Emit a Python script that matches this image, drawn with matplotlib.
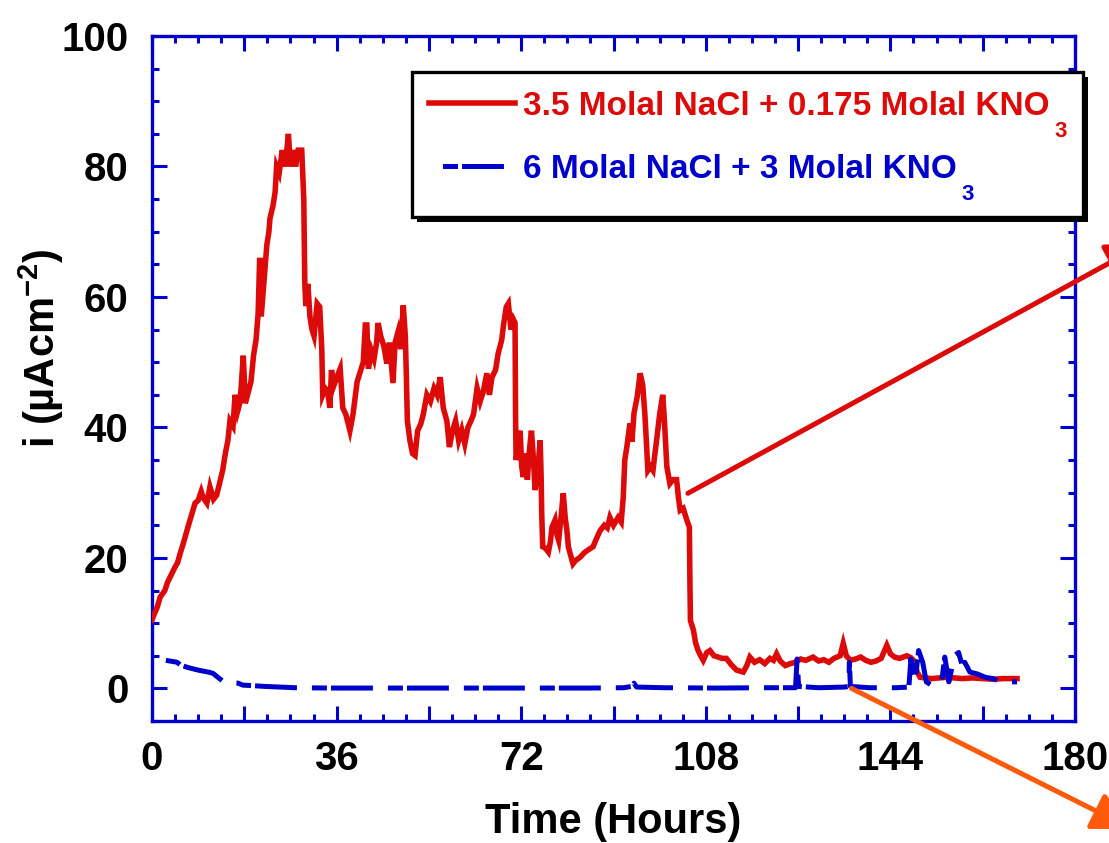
import matplotlib
matplotlib.use('Agg')
import matplotlib.pyplot as plt
from matplotlib.ticker import MultipleLocator, FuncFormatter
from matplotlib.patches import Rectangle
from matplotlib.lines import Line2D

plt.rcParams['font.family'] = ['Liberation Sans', 'DejaVu Sans']
plt.rcParams['font.weight'] = 'bold'
plt.rcParams['lines.scale_dashes'] = False

# ---------------- data ----------------
red_label = "3.5 Molal NaCl + 0.175 Molal KNO"
blue_label = "6 Molal NaCl + 3 Molal KNO"
subscript = "3"

red_t = [0.0, 0.5, 1.0, 1.6, 2.5, 3.0, 3.5, 4.5, 5.0, 5.5, 6.1, 7.0, 7.8, 8.4, 9.0, 9.6,
         10.0, 10.7, 11.3, 12.0, 12.6, 13.2, 13.8, 14.3, 14.8, 15.2, 15.8, 16.2, 16.7, 17.2,
         17.8, 18.2, 18.8, 19.3, 19.8, 20.3, 20.7, 21.0, 21.3, 21.8, 22.4, 22.8, 23.0, 23.6,
         24.0, 24.3, 24.8, 25.4, 25.9, 26.3, 26.6, 27.0, 27.5, 28.0, 28.5, 29.2, 29.6, 29.8,
         30.0, 30.4, 30.8, 31.2, 31.6, 32.2, 32.7, 33.1, 33.3, 33.8, 34.2, 34.7, 35.0, 35.5,
         36.2, 36.7, 37.2, 37.8, 38.6, 39.2, 39.6, 40.0, 40.6, 41.2, 41.6, 41.9, 42.2, 42.8,
         43.3, 43.8, 44.1, 44.6, 45.2, 45.8, 46.3, 47.0, 47.4, 48.0, 48.5, 49.0, 49.4, 49.6,
         49.8, 50.3, 50.8, 51.3, 51.8, 52.4, 52.9, 53.6, 54.3, 55.0, 55.6, 56.2, 56.8, 57.5,
         58.0, 58.6, 59.2, 59.8, 60.4, 61.0, 61.6, 62.2, 62.7, 63.4, 64.0, 64.6, 65.3, 65.8,
         66.3, 67.0, 67.5, 68.2, 68.6, 69.1, 69.5, 70.0, 70.5, 70.8, 70.9, 71.0, 71.4, 71.8,
         72.1, 72.4, 72.8, 73.2, 73.6, 74.0, 74.4, 74.7, 75.2, 75.7, 75.9, 76.0, 76.2, 76.7,
         77.3, 77.7, 78.0, 78.6, 79.0, 79.3, 79.8, 80.2, 80.6, 80.9, 81.2, 81.6, 82.1, 82.6,
         83.5, 84.3, 85.2, 86.0, 86.7, 87.4, 88.2, 88.8, 89.3, 90.0, 90.9, 91.5, 91.9, 92.2,
         92.6, 93.2, 93.6, 94.0, 94.6, 95.2, 95.7, 96.1, 96.4, 96.7, 97.2, 97.7, 98.0, 98.4,
         99.0, 99.6, 99.9, 100.4, 101.0, 101.6, 102.3, 102.7, 103.0, 103.6, 104.3, 104.8,
         104.9, 105.0, 105.6, 106.0, 106.5, 107.0, 107.5, 108.2, 108.8, 109.6, 110.4, 111.2,
         112.0, 113.0, 114.0, 115.3, 116.0, 116.6, 117.5, 118.5, 119.5, 120.5, 121.2, 121.8,
         122.5, 123.5, 124.5, 125.5, 126.5, 127.5, 128.9, 130.0, 131.0, 132.0, 133.0, 134.2,
         134.8, 135.4, 136.2, 137.2, 138.2, 139.2, 140.2, 141.2, 142.2, 143.3, 144.0, 144.8,
         145.8, 146.5, 147.2, 148.0, 148.8, 149.2, 149.8, 151.0, 152.0, 153.5, 155.0, 156.5,
         158.0, 160.0, 162.0, 164.0, 166.0, 168.7]
red_i = [10.5, 11.5, 12.4, 14.0, 15.0, 16.2, 17.0, 18.6, 19.3, 20.7, 22.2, 24.7, 26.8, 28.4, 28.8, 30.2,
         29.2, 28.4, 30.9, 29.0, 29.6, 31.5, 33.5, 36.0, 38.0, 41.0, 40.2, 45.0, 42.5, 44.0,
         51.0, 43.7, 45.5, 47.0, 51.0, 53.5, 57.5, 66.0, 57.0, 62.0, 68.0, 70.0, 72.0, 74.0,
         76.0, 80.0, 79.0, 82.5, 80.0, 82.5, 85.0, 80.0, 82.5, 80.0, 82.5, 82.5, 75.0, 62.0,
         58.6, 62.0, 57.0, 55.0, 54.0, 59.0, 58.5, 52.3, 45.0, 46.0, 45.7, 43.0, 48.8, 46.5,
         48.0, 49.0, 43.0, 42.0, 39.5, 42.0, 44.5, 47.0, 48.5, 50.0, 55.7, 55.7, 49.0, 51.7,
         50.5, 53.0, 56.0, 54.0, 52.5, 49.8, 53.0, 46.8, 53.0, 54.7, 52.0, 58.7, 54.0, 48.0,
         41.0, 38.0, 36.0, 35.7, 39.5, 40.5, 42.0, 45.0, 44.0, 46.0, 45.0, 47.7, 43.0, 41.0,
         37.0, 39.5, 41.0, 38.0, 39.6, 37.5, 40.0, 41.0, 42.0, 46.0, 44.0, 45.5, 48.3, 45.0,
         47.7, 48.8, 51.3, 53.4, 56.0, 58.5, 59.0, 55.0, 56.5, 56.0, 42.0, 35.0, 37.0, 39.5,
         34.0, 32.4, 36.0, 32.0, 36.5, 39.5, 35.0, 30.4, 33.0, 38.0, 32.0, 26.8, 21.7, 21.5,
         20.9, 22.5, 24.7, 25.8, 23.5, 22.7, 26.5, 29.9, 26.0, 24.3, 21.7, 20.5, 19.1, 19.6,
         20.1, 20.8, 21.3, 21.7, 23.0, 24.2, 25.0, 24.6, 26.2, 25.0, 26.2, 25.5, 29.3, 35.0,
         37.0, 40.6, 37.8, 42.2, 44.6, 48.3, 46.5, 42.2, 38.0, 33.4, 34.0, 33.4, 35.5, 38.0,
         42.0, 45.0, 41.5, 34.0, 31.4, 32.0, 32.0, 29.0, 27.3, 27.6, 25.8, 24.7,
         16.6, 10.4, 8.9, 7.0, 5.8, 5.0, 4.3, 5.5, 5.8, 5.0, 4.8, 4.6,
         4.6, 3.6, 2.8, 2.5, 3.5, 4.8, 4.0, 4.4, 3.8, 4.6, 4.3, 5.3,
         4.2, 3.5, 3.8, 4.0, 4.5, 4.3, 4.8, 4.2, 4.4, 4.0, 4.6, 5.0,
         6.9, 5.0, 4.3, 4.5, 4.8, 4.3, 4.0, 4.2, 4.6, 6.6, 5.3, 4.8,
         4.6, 4.8, 5.0, 4.7, 4.0, 2.5, 1.7, 1.6, 1.5, 1.6, 1.7, 1.6,
         1.5, 1.6, 1.5, 1.4, 1.5, 1.5]

blue_t = [2.7, 4.9, 5.5, 7.0, 9.0, 11.0, 11.9, 13.0, 14.2, 16.8, 17.7, 20.0, 22.0, 25.0,
          28.0, 35.0, 45.0, 55.0, 65.0, 75.0, 85.0, 92.0, 93.5, 94.0, 94.5, 100.0, 110.0,
          120.0, 125.5, 125.8, 126.1, 130.0, 135.0, 135.9, 136.0, 136.2, 140.0, 145.0,
          147.6, 148.0, 148.8, 149.5, 150.3, 151.0, 152.0, 153.0, 154.0, 154.6, 155.4,
          156.5, 157.3, 158.0, 158.5, 159.5, 161.0, 162.5, 164.0, 165.0, 167.0, 168.7]
blue_i = [4.3, 4.0, 3.6, 3.2, 2.8, 2.5, 2.3, 1.6, 0.9, 0.8, 0.5, 0.4, 0.3, 0.2,
          0.1, 0.05, 0.05, 0.05, 0.05, 0.05, 0.05, 0.1, 0.3, 0.8, 0.2, 0.1, 0.05,
          0.1, 0.1, 4.5, 0.3, 0.1, 0.2, 0.3, 4.0, 0.3, 0.1, 0.1,
          0.2, 4.5, 1.0, 5.8, 4.0, 1.0, 0.5, 0.5, 1.0, 4.8, 1.0,
          5.0, 5.5, 3.5, 4.0, 2.5, 2.2, 1.7, 1.5, 1.2, 1.0, 1.0]

x_label = "Time (Hours)"
y_label = "i (µAcm$^{\\mathregular{-2}}$)"

# ---------------- style ----------------
RED = '#DD0A0A'
BLUE = '#0000CC'
ORANGE = '#FF5A0A'
W, H = 1109, 843
DASH = (10.8, 2.9, 30.2, 10.8)

fig = plt.figure(figsize=(W / 100, H / 100), dpi=100)
ax = fig.add_axes([152 / W, 1 - 721 / H, (1075 - 152) / W, (721 - 36) / H])

red_line, = ax.plot(red_t, red_i, color=RED, lw=4.0, solid_joinstyle='miter', label=red_label, zorder=3)
ax.plot(blue_t, blue_i, color=BLUE, lw=3.6, linestyle=(0, DASH),
        dash_capstyle='butt', zorder=4)
blue_handle = Line2D([], [], color=BLUE, lw=3.6, linestyle=(45.0, DASH), dash_capstyle='butt',
                     label=blue_label)

ax.set_xlim(0, 180)
ax.set_ylim(-5, 100)
ax.xaxis.set_major_locator(MultipleLocator(18))
ax.xaxis.set_minor_locator(MultipleLocator(4.5))
ax.xaxis.set_major_formatter(FuncFormatter(lambda v, p: f"{int(round(v))}" if int(round(v)) % 36 == 0 else ""))
ax.yaxis.set_major_locator(MultipleLocator(20))
ax.yaxis.set_minor_locator(MultipleLocator(5))

ax.tick_params(which='both', direction='in', top=True, right=True, color=BLUE,
               width=2.2, labelcolor='black')
ax.tick_params(which='major', length=10.8, labelsize=29)
ax.tick_params(which='minor', length=5)
ax.tick_params(axis='x', pad=14)
ax.tick_params(axis='y', pad=17)
for lab in ax.get_xticklabels() + ax.get_yticklabels():
    lab.set_fontweight('bold')
for sp in ax.spines.values():
    sp.set_color(BLUE)
    sp.set_linewidth(2.4)

ax.set_xlabel(x_label, fontsize=30, fontweight='bold', labelpad=17)
ax.set_ylabel(y_label, fontsize=30, fontweight='bold')
ax.yaxis.set_label_coords(-0.093, 0.545)

# legend frame with black shadow
fig.add_artist(Rectangle((417 / W, 1 - 222 / H), 671 / W, 145 / H, transform=fig.transFigure,
                         facecolor='black', edgecolor='black', lw=0, zorder=6))
fig.add_artist(Rectangle((412 / W, 1 - 217 / H), 671 / W, 145 / H, transform=fig.transFigure,
                         facecolor='white', edgecolor='black', lw=2.4, zorder=6.1))

leg = ax.legend(handles=[red_line, blue_handle], loc='upper left',
                bbox_to_anchor=(429 / W, 1 - 91 / H), bbox_transform=fig.transFigure,
                borderaxespad=0, borderpad=0, frameon=False,
                prop=dict(family='Liberation Sans', weight='bold', size=24),
                handlelength=2.58, handletextpad=0.24, labelspacing=0.96)
leg.set_zorder(7)
fig.add_artist(leg)
for txt, col in zip(leg.get_texts(), [RED, BLUE]):
    txt.set_color(col)
    ann = fig.add_artist(matplotlib.text.Annotation(subscript, xy=(1, 0), xycoords=txt,
                                                    xytext=(5, -15), textcoords='offset pixels',
                                                    va='baseline', ha='left', fontsize=16,
                                                    fontweight='bold', color=col))
    ann.set_zorder(8)

# arrows
ax.annotate('', xy=(1146, H - 243), xycoords='figure pixels', xytext=(104.5, 29.9), textcoords='data',
            arrowprops=dict(arrowstyle='-|>,head_length=1,head_width=0.5', mutation_scale=24,
                            color=RED, lw=3.6, shrinkA=0, shrinkB=0),
            annotation_clip=False, zorder=5)
ax.annotate('', xy=(1132, H - 829), xycoords='figure pixels', xytext=(136.4, 0.0), textcoords='data',
            arrowprops=dict(arrowstyle='-|>,head_length=1,head_width=0.5', mutation_scale=24,
                            color=ORANGE, lw=3.6, shrinkA=0, shrinkB=0),
            annotation_clip=False, zorder=5)

fig.savefig('out.png', dpi=100)
